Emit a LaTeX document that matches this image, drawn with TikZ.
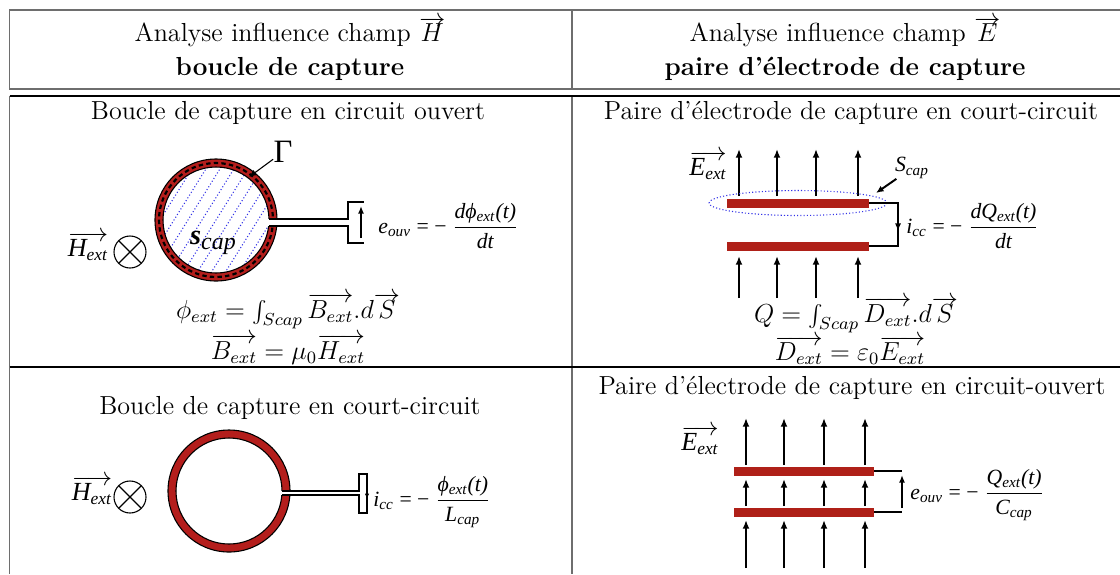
\documentclass[12pt,tikz,border=0pt]{standalone}
\usepackage{fontspec}
\newfontfamily\imgfont{Liberation Serif}
\usetikzlibrary{arrows.meta,positioning}
\definecolor{loopred}{RGB}{180,30,28}
\definecolor{platered}{RGB}{175,32,24}
\definecolor{tabgray}{RGB}{110,110,110}
\definecolor{hatchblue}{RGB}{50,50,230}
\newcommand{\imgfrac}[2]{$\displaystyle\frac{\mbox{#1}}{\mbox{#2}}$}
\newcommand{\vecimg}[2]{$\overrightarrow{\mbox{\imgfont\itshape #1\textsubscript{#2}}}$}
\begin{document}
\begin{tikzpicture}[x=0.46pt, y=-0.46pt, inner sep=0pt, every node/.style={font=\fontsize{12}{14}\selectfont}]
	\tikzstyle{tabline} = [draw=tabgray, line width=0.6pt]
	\tikzstyle{tabrule} = [draw=black, line width=0.6pt]
	\tikzstyle{imgtxt} = [font=\imgfont\itshape\fontsize{10}{12}\selectfont, anchor=west]
	\tikzstyle{field} = [line width=0.9pt, -{Latex[length=4pt,width=3.2pt]}]
	\tikzstyle{wire} = [line width=0.6pt]
	\tikzstyle{plate} = [fill=platered, draw=none]
	\tikzstyle{hatch} = [hatchblue, densely dotted, line width=0.5pt]
	\tikzstyle{pointer} = [line width=0.6pt, -{Latex[length=3.5pt,width=3pt]}]
	
	\useasboundingbox (0,0) rectangle (1120,574);
	
	\draw[tabline] (1120,10) -- (9.5,10) -- (9.5,89) -- (1120,89);
	\draw[tabline] (572,10) -- (572,89);
	\draw[tabline] (9.5,96) -- (9.5,574);
	\draw[tabline] (572,96) -- (572,574);
	\draw[tabrule] (9.5,96) -- (1120,96);
	\draw[tabrule] (9.5,367) -- (1120,367);
	
	\node (headH) at (290,32) {Analyse influence champ $\overrightarrow{H}$};
	\node (headHb) at (290,69) {\textbf{boucle de capture}};
	\node (headE) at (845,32) {Analyse influence champ $\overrightarrow{E}$};
	\node (headEb) at (845,69) {\textbf{paire d’électrode de capture}};
	
	\node (titleA) at (288,113) {Boucle de capture en circuit ouvert};
	\node (titleB) at (851,113) {Paire d’électrode de capture en court-circuit};
	\node (titleC) at (290,408) {Boucle de capture en court-circuit};
	\node (titleD) at (852,388) {Paire d’électrode de capture en circuit-ouvert};
	
	% boucle ouverte
	\begin{scope}
		\clip (216,220) circle (53);
		\foreach \k in {-7,...,7}
			\draw[hatch] ({216+\k*14-40},284) -- ({216+\k*14+40},156);
	\end{scope}
	\fill[loopred, even odd rule] (216,220) circle (61) (216,220) circle (53);
	\draw[line width=0.5pt] (216,220) circle (61) (216,220) circle (53);
	\draw[line width=1pt, dash pattern=on 2pt off 1.5pt] (216,220) circle (57);
	\fill[white] (262,219) rectangle (282,226);
	\draw[wire] (269,219) -- (348,219) -- (348,202) -- (364,202);
	\draw[wire] (269,226) -- (348,226) -- (348,243) -- (364,243);
	\draw[line width=0.8pt, -{Latex[length=3.5pt,width=2.8pt]}] (361,238) -- (361,206);
	\node[imgtxt] (eouvA) at (378,226) {e\textsubscript{ouv} {\upshape = −} \imgfrac{dϕ\textsubscript{ext}(t)}{dt}};
	\node[font=\imgfont\fontsize{15}{15}\selectfont] (gam) at (283,152) {Γ};
	\coordinate (gamtip) at (249,177);
	\draw[pointer, line width=0.5pt] (gam) -- (gamtip);
	\node (scapA) at (213,243) {\imgfont\bfseries\itshape\fontsize{13}{13}\selectfont s\mdseries\fontsize{11}{11}\selectfont\raisebox{-2.5pt}{cap}};
	\node (hextA) at (88,246) {\vecimg{H}{ext}};
	\draw[line width=0.5pt] (130,252) circle (16);
	\draw[line width=0.5pt] (130,252) ++(45:16) -- ++(225:32);
	\draw[line width=0.5pt] (130,252) ++(135:16) -- ++(-45:32);
	\node (phiext) at (288,311) {$\phi_{ext} = \int_{Scap} \overrightarrow{B_{ext}}.d\overrightarrow{S}$};
	\node (bext) at (288,349) {$\overrightarrow{B_{ext}} = \mu_0 \overrightarrow{H_{ext}}$};
	
	% electrodes en court-circuit
	\node (eextB) at (708,165) {\vecimg{E}{ext}};
	\foreach \x in {739,777,816,858} {
		\draw[field] (\x,196) -- (\x,149);
		\draw[field] (\x,298) -- (\x,256);
	}
	\fill[plate] (727,199) rectangle (869,208);
	\fill[plate] (727,242) rectangle (869,251);
	\draw[hatchblue, densely dotted, line width=0.5pt] (798,203) ellipse (89 and 12.5);
	\node[imgtxt, anchor=center] (scapB) at (912,168) {S\textsubscript{cap}};
	\coordinate (scaptip) at (876,193);
	\draw[pointer, line width=0.9pt] (scapB) -- (scaptip);
	\draw[wire] (869,203) -- (898,203) -- (898,246) -- (869,246);
	\draw[line width=0.6pt, -{Latex[length=3.5pt,width=2.8pt]}] (898,215) -- (898,231);
	\node[imgtxt] (iccB) at (906,226) {i\textsubscript{cc} {\upshape = −} \imgfrac{dQ\textsubscript{ext}(t)}{dt}};
	\node (qint) at (856,315) {$Q = \int_{Scap} \overrightarrow{D_{ext}}.d\overrightarrow{S}$};
	\node (dext) at (850,350) {$\overrightarrow{D_{ext}} = \varepsilon_0 \overrightarrow{E_{ext}}$};
	
	% boucle en court-circuit
	\fill[loopred, even odd rule] (229,491) circle (61) (229,491) circle (53);
	\draw[line width=0.5pt] (229,491) circle (61) (229,491) circle (53);
	\fill[white] (275,491) rectangle (295,495);
	\draw[wire] (282,491) -- (359,491) -- (359,474) -- (367,474) -- (367,513) -- (359,513) -- (359,495) -- (282,495);
	\draw[line width=0.4pt, -{Latex[length=2.5pt,width=2pt]}] (367,488) -- (367,499);
	\node[imgtxt] (iccC) at (373,502) {i\textsubscript{cc} {\upshape = −} \imgfrac{ϕ\textsubscript{ext}(t)}{L\textsubscript{cap}}};
	\node (hextC) at (92,490) {\vecimg{H}{ext}};
	\draw[line width=0.5pt] (130,497) circle (16);
	\draw[line width=0.5pt] (130,497) ++(45:16) -- ++(225:32);
	\draw[line width=0.5pt] (130,497) ++(135:16) -- ++(-45:32);
	
	% electrodes en circuit ouvert
	\node (eextD) at (700,440) {\vecimg{E}{ext}};
	\foreach \x in {746,784,824,865} {
		\draw[field] (\x,465) -- (\x,418);
		\draw[field] (\x,506) -- (\x,479);
		\draw[field] (\x,568) -- (\x,520);
	}
	\fill[plate] (734,467) rectangle (874,476);
	\fill[plate] (734,508) rectangle (874,517);
	\draw[wire] (874,471) -- (902,471);
	\draw[wire] (874,512) -- (902,512);
	\draw[line width=0.8pt, -{Latex[length=3.5pt,width=2.8pt]}] (902,508) -- (902,475);
	\node[imgtxt] (eouvD) at (910,495) {e\textsubscript{ouv} {\upshape = −} \imgfrac{Q\textsubscript{ext}(t)}{C\textsubscript{cap}}};
\end{tikzpicture}
\end{document}
